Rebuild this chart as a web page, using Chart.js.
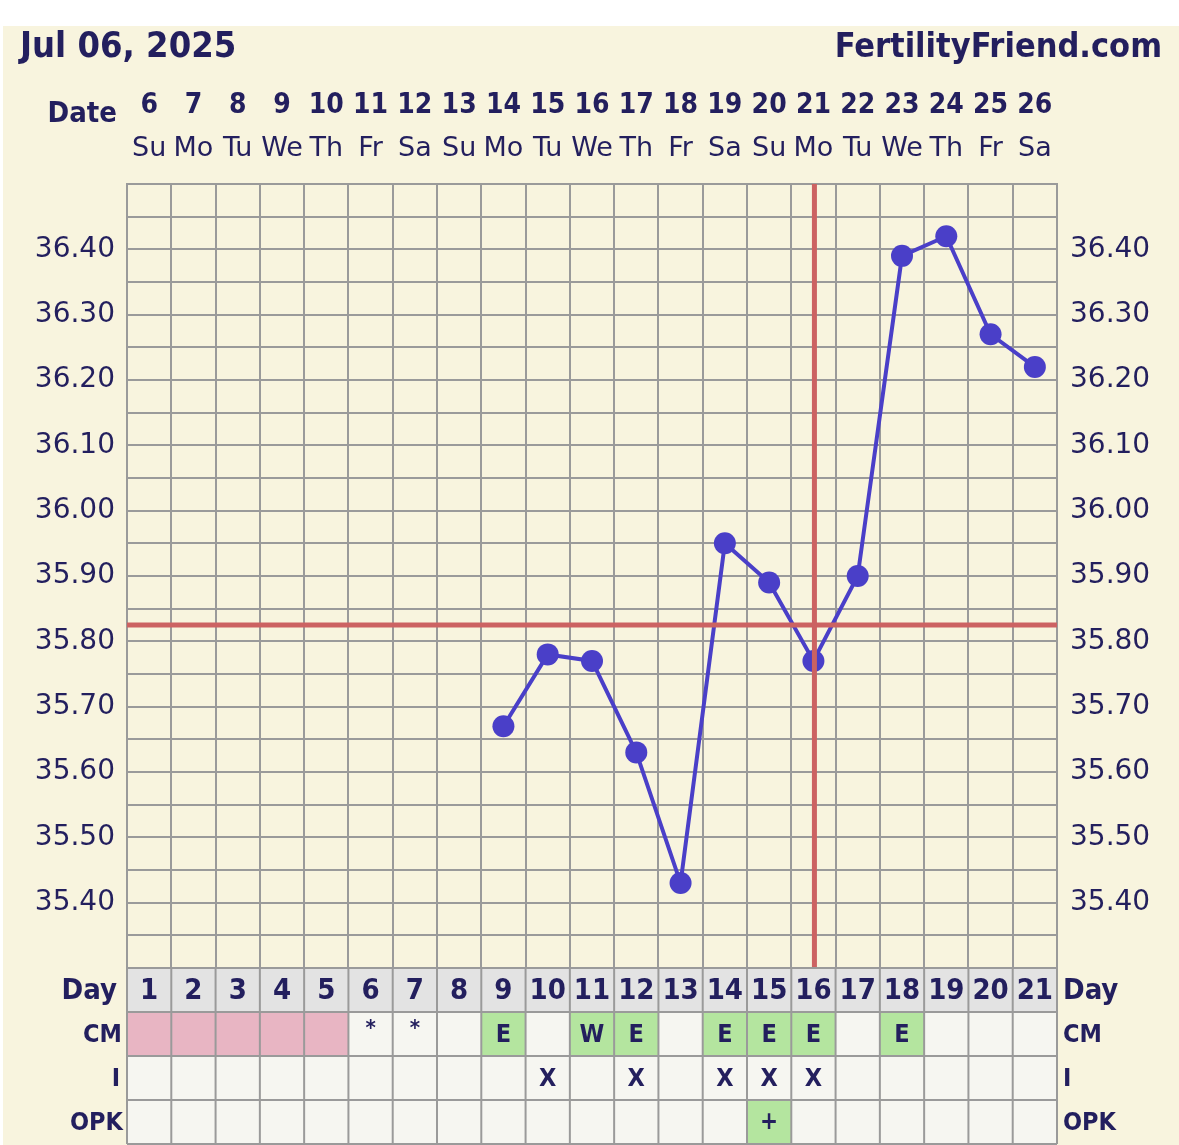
<!DOCTYPE html>
<html>
<head>
<meta charset="utf-8">
<script src="https://cdn.jsdelivr.net/npm/chart.js@4/dist/chart.umd.min.js"></script>
<style>
  html, body { margin: 0; padding: 0; background: #fff; }
  #wrap { position: absolute; left: 3px; top: 26px; width: 1176px; height: 1119px; background: #f8f4de; }
</style>
</head>
<body>
<div id="wrap"><canvas id="chart" width="1176" height="1119"></canvas></div>
<script>
// chart data
const chartDate = 'Jul 06, 2025';
const siteName = 'FertilityFriend.com';
const dates = [6, 7, 8, 9, 10, 11, 12, 13, 14, 15, 16, 17, 18, 19, 20, 21, 22, 23, 24, 25, 26];
const weekdays = ['Su', 'Mo', 'Tu', 'We', 'Th', 'Fr', 'Sa', 'Su', 'Mo', 'Tu', 'We', 'Th', 'Fr', 'Sa', 'Su', 'Mo', 'Tu', 'We', 'Th', 'Fr', 'Sa'];
const cycleDays = [1, 2, 3, 4, 5, 6, 7, 8, 9, 10, 11, 12, 13, 14, 15, 16, 17, 18, 19, 20, 21];
const temps = [null, null, null, null, null, null, null, null, 35.67, 35.78, 35.77, 35.63, 35.43, 35.95, 35.89, 35.77, 35.90, 36.39, 36.42, 36.27, 36.22];
const coverline = 35.825;
const ovulationDay = 16;
const periodDays = [1, 2, 3, 4, 5];
const cervicalMucus = ['', '', '', '', '', '*', '*', '', 'E', '', 'W', 'E', '', 'E', 'E', 'E', '', 'E', '', '', ''];
const intercourse = ['', '', '', '', '', '', '', '', '', 'X', '', 'X', '', 'X', 'X', 'X', '', '', '', '', ''];
const opk = ['', '', '', '', '', '', '', '', '', '', '', '', '', '', '+', '', '', '', '', '', ''];
const tempMin = 35.30;
const tempMax = 36.50;

const NAVY = '#231f5e';
const GRID = '#9a9a9a';
const RED = '#cc6262';
const BLUE = '#4a3fc8';
const PINK = '#e8b5c3';
const GREEN = '#b4e59f';
const DAYBG = '#e3e3e3';
const CELLBG = '#f6f6f1';
const SANS = '"DejaVu Sans", Verdana, sans-serif';
const COND = '"DejaVu Sans Condensed", "DejaVu Sans", sans-serif';

const ROW_H = 44;

function line(ctx, x1, y1, x2, y2) {
    ctx.beginPath();
    ctx.moveTo(x1, y1);
    ctx.lineTo(x2, y2);
    ctx.stroke();
}

function text(ctx, str, x, y, font, align) {
    ctx.font = font;
    ctx.textAlign = align || 'center';
    ctx.textBaseline = 'middle';
    ctx.fillStyle = NAVY;
    ctx.fillText(str, x, y);
}

const fertilityPlugin = {
    id: 'fertility',
    afterDatasetsDraw(chart) {
        const {ctx, chartArea, scales} = chart;
        ctx.save();
        ctx.strokeStyle = RED;
        ctx.lineWidth = 5;
        const cy = scales.y.getPixelForValue(coverline);
        line(ctx, chartArea.left, cy, chartArea.right, cy);
        const ox = scales.x.getPixelForValue(ovulationDay - 1) + 1;
        line(ctx, ox, chartArea.top, ox, chartArea.bottom);
        ctx.restore();
    },
    afterDraw(chart) {
        const {ctx, chartArea, scales} = chart;
        const x = scales.x;
        const half = (x.getPixelForValue(1) - x.getPixelForValue(0)) / 2;
        const top = chartArea.bottom;
        const rows = [
            {label: 'Day', values: cycleDays, font: 'bold 29px ' + COND, lfont: 'bold 29px ' + COND, lx: 10},
            {label: 'CM', values: cervicalMucus, font: 'bold 25px ' + COND, lfont: 'bold 25px ' + COND, lx: 5},
            {label: 'I', values: intercourse, font: 'bold 25px ' + COND, lfont: 'bold 25px ' + COND, lx: 7},
            {label: 'OPK', values: opk, font: 'bold 24px ' + COND, lfont: 'bold 25px ' + COND, lx: 4}
        ];
        ctx.save();
        rows.forEach((row, r) => {
            const y0 = top + r * ROW_H;
            const cyc = y0 + ROW_H / 2;
            cycleDays.forEach((d, i) => {
                const cx = x.getPixelForValue(i);
                const v = row.values[i];
                let bg = CELLBG;
                if (r === 0) bg = DAYBG;
                if (r === 1 && periodDays.includes(d)) bg = PINK;
                if (r === 1 && (v === 'E' || v === 'W')) bg = GREEN;
                if (r === 3 && v === '+') bg = GREEN;
                ctx.fillStyle = bg;
                ctx.fillRect(cx - half, y0, half * 2, ROW_H);
                if (v !== '' && v !== undefined) {
                    if (v === '*') {
                        text(ctx, '*', cx, cyc - 5, 'bold 22px ' + COND);
                    } else {
                        text(ctx, String(v), cx, cyc + 1, row.font);
                    }
                }
            });
            text(ctx, row.label, chartArea.left - row.lx, cyc + 1, row.lfont, 'right');
            text(ctx, row.label, chartArea.right + 6, cyc + 1, row.lfont, 'left');
        });
        // table grid
        ctx.strokeStyle = GRID;
        ctx.lineWidth = 2;
        const bottom = top + rows.length * ROW_H;
        for (let i = 0; i <= cycleDays.length; i++) {
            const gx = x.getPixelForValue(i) - half;
            line(ctx, gx, top, gx, bottom);
        }
        for (let r = 0; r <= rows.length; r++) {
            const gy = top + r * ROW_H;
            line(ctx, chartArea.left, gy, chartArea.right, gy);
        }
        // header texts
        text(ctx, 'Date', chartArea.left - 10, 88, 'bold 29px ' + COND, 'right');
        text(ctx, chartDate, 17, 22, 'bold 36px ' + COND, 'left');
        text(ctx, siteName, 1159, 22, 'bold 34px ' + COND, 'right');
        ctx.restore();
    }
};

const yTicks = {
    color: NAVY,
    font: {family: SANS, size: 28},
    stepSize: 0.05,
    autoSkip: false,
    callback: (v) => {
        const n = Math.round(v * 100);
        if (n % 10 !== 0 || n < 3540 || n > 3640) return '';
        return (n / 100).toFixed(2);
    }
};

const ctx = document.getElementById('chart').getContext('2d');
const myChart = new Chart(ctx, {
    type: 'line',
    data: {
        labels: weekdays,
        datasets: [{
            label: 'Temperature',
            data: temps,
            borderColor: BLUE,
            backgroundColor: BLUE,
            borderWidth: 4,
            pointRadius: 11,
            pointHoverRadius: 11,
            pointBorderWidth: 0,
            tension: 0,
            yAxisID: 'y',
            xAxisID: 'x'
        }]
    },
    options: {
        responsive: false,
        animation: false,
        layout: {padding: {top: 40, bottom: 177, left: 0, right: 0}},
        plugins: {legend: {display: false}, tooltip: {enabled: false}},
        scales: {
            x: {
                position: 'top',
                offset: true,
                weight: 0,
                grid: {offset: true, color: GRID, lineWidth: 2, drawTicks: false},
                border: {color: GRID, width: 2},
                ticks: {color: NAVY, font: {family: SANS, size: 27}, padding: 19, autoSkip: false, maxRotation: 0},
                afterFit: (s) => { s.height = 50; }
            },
            xd: {
                type: 'category',
                labels: dates.map(String),
                position: 'top',
                offset: true,
                weight: 1,
                grid: {display: false, drawTicks: false},
                border: {display: false},
                ticks: {color: NAVY, font: {family: COND, size: 28, weight: 'bold'}, padding: 11, autoSkip: false, maxRotation: 0},
                afterFit: (s) => { s.height = 68; }
            },
            y: {
                position: 'left',
                min: tempMin,
                max: tempMax,
                grid: {color: GRID, lineWidth: 2, drawTicks: false},
                border: {color: GRID, width: 2},
                ticks: Object.assign({padding: 12}, yTicks),
                afterFit: (s) => { s.width = 124; }
            },
            y2: {
                position: 'right',
                min: tempMin,
                max: tempMax,
                grid: {display: false, drawTicks: false},
                border: {color: GRID, width: 2},
                ticks: Object.assign({padding: 13}, yTicks),
                afterFit: (s) => { s.width = 122; }
            }
        }
    },
    plugins: [fertilityPlugin]
});
</script>
</body>
</html>
